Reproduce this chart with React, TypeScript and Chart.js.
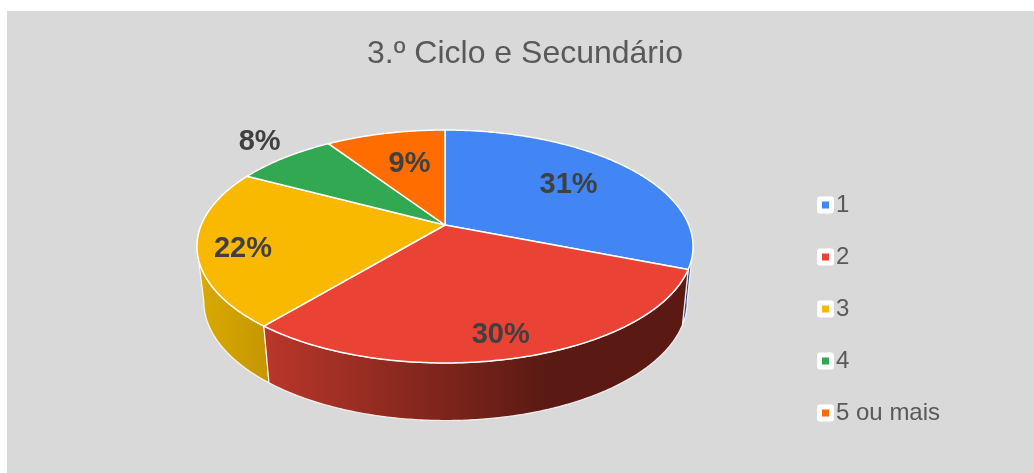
import React, { useEffect, useRef } from "react";
import { Chart, registerables } from "chart.js";

Chart.register(...registerables);

const categories = ["1", "2", "3", "4", "5 ou mais"];
const shares = [31, 30, 21.8, 7.9, 9.3];
const sliceColors = ["#4285f4", "#ea4335", "#f9b900", "#32a852", "#ff6d01"];
const chartTitle = "3.º Ciclo e Secundário";

const FONT = '"Liberation Sans", Arial, sans-serif';
const TILT = -0.1845;
const TOP = { cx: 438, cy: 214, rx: 243.8, ry: 112.5 };
const BASE = { cx: 438.5, cy: 268.5, rx: 237.5, ry: 115 };
const SIDE_START = (100.6 * Math.PI) / 180;
const SIDE_END = (259.4 * Math.PI) / 180;
const labelRadius = [0.66, 0.85, 0.82, 1.2, 0.66];
const labelNudge = [[-1, -1], [-5, 1], [0, 6], [3, -4], [6, 3]];

function project(face: typeof TOP, theta: number, r = 1) {
  const u = Math.sin(theta) * r;
  const v = -Math.cos(theta) * r;
  const d = 1 + TILT * v;
  return { x: face.cx + (face.rx * u) / d, y: face.cy + (face.ry * v) / d };
}

function arcPoints(face: typeof TOP, a: number, b: number) {
  const n = Math.max(2, Math.ceil(Math.abs(b - a) / 0.01));
  const out: { x: number; y: number }[] = [];
  for (let i = 0; i <= n; i++) out.push(project(face, a + ((b - a) * i) / n));
  return out;
}

function swatch(color: string) {
  const c = document.createElement("canvas");
  c.width = 40;
  c.height = 18;
  const g = c.getContext("2d")!;
  g.fillStyle = "#ffffff";
  g.beginPath();
  g.roundRect(17, 0.5, 17, 17, 3);
  g.fill();
  g.fillStyle = color;
  g.fillRect(22, 5.5, 7, 7);
  return c;
}

const pie3d = {
  id: "pie3d",
  afterLayout(chart: any) {
    const lg = chart.legend;
    const w = lg.right - lg.left;
    const h = lg.bottom - lg.top;
    lg.left = 781;
    lg.right = lg.left + w;
    lg.top = 154;
    lg.bottom = lg.top + h;
  },
  beforeDatasetsDraw(chart: any) {
    const ctx: CanvasRenderingContext2D = chart.ctx;
    const arcs = chart.getDatasetMeta(0).data;
    const spans = arcs.map((arc: any) => ({
      a: arc.startAngle + Math.PI / 2,
      b: arc.endAngle + Math.PI / 2,
    }));

    ctx.save();
    ctx.lineJoin = "round";

    const redFill = ctx.createLinearGradient(263, 0, 540, 0);
    redFill.addColorStop(0, "#b8362a");
    redFill.addColorStop(1, "#5a1a13");
    const yellowFill = ctx.createLinearGradient(195, 0, 265, 0);
    yellowFill.addColorStop(0, "#d9a900");
    yellowFill.addColorStop(1, "#c49500");
    const wallFills: (string | CanvasGradient)[] = ["#2b4d85", redFill, yellowFill];

    [0, 2, 1].forEach((i) => {
      const a = Math.max(spans[i].a, SIDE_START);
      const b = Math.min(spans[i].b, SIDE_END);
      if (b <= a) return;
      const pts = [...arcPoints(TOP, a, b), ...arcPoints(BASE, b, a)];
      ctx.beginPath();
      pts.forEach((p, k) => (k ? ctx.lineTo(p.x, p.y) : ctx.moveTo(p.x, p.y)));
      ctx.closePath();
      ctx.fillStyle = wallFills[i];
      ctx.fill();
      ctx.strokeStyle = "rgba(255,255,255,0.85)";
      ctx.lineWidth = 1.2;
      ctx.stroke();
    });

    spans.forEach((s: any, i: number) => {
      const pts = arcPoints(TOP, s.a, s.b);
      ctx.beginPath();
      ctx.moveTo(TOP.cx, TOP.cy);
      pts.forEach((p) => ctx.lineTo(p.x, p.y));
      ctx.closePath();
      ctx.fillStyle = sliceColors[i];
      ctx.fill();
      ctx.strokeStyle = "#ffffff";
      ctx.lineWidth = 1.5;
      ctx.stroke();
    });

    const total = shares.reduce((t, v) => t + v, 0);
    ctx.font = `bold 29px ${FONT}`;
    ctx.fillStyle = "#404040";
    ctx.textAlign = "center";
    ctx.textBaseline = "middle";
    spans.forEach((s: any, i: number) => {
      const p = project(TOP, (s.a + s.b) / 2, labelRadius[i]);
      ctx.fillText(
        `${Math.round((shares[i] / total) * 100)}%`,
        p.x + labelNudge[i][0],
        p.y + labelNudge[i][1]
      );
    });
    ctx.restore();
    return false;
  },
};

export default function App() {
  const ref = useRef<HTMLCanvasElement>(null);
  useEffect(() => {
    const chart = new Chart(ref.current!, {
      type: "pie",
      data: {
        labels: categories,
        datasets: [{ data: shares, backgroundColor: sliceColors }],
      },
      plugins: [pie3d as any],
      options: {
        animation: false,
        responsive: false,
        layout: { padding: { left: 9 } },
        plugins: {
          tooltip: { enabled: false },
          title: {
            display: true,
            text: chartTitle,
            color: "#595959",
            font: { family: FONT, size: 32, weight: "normal" },
            padding: { top: 24, bottom: 20 },
          },
          legend: {
            position: "right",
            align: "start",
            labels: {
              color: "#595959",
              font: { family: FONT, size: 24 },
              usePointStyle: true,
              pointStyleWidth: 8,
              padding: 28,
              generateLabels: () =>
                categories.map((text, i) => ({
                  text,
                  index: i,
                  fontColor: "#595959",
                  fillStyle: sliceColors[i],
                  strokeStyle: sliceColors[i],
                  lineWidth: 0,
                  pointStyle: swatch(sliceColors[i]),
                })),
            },
          },
        },
      },
    } as any);
    return () => chart.destroy();
  }, []);
  return (
    <div style={{ position: "fixed", left: 7, top: 11, width: 1027, height: 462 }}>
      <canvas
        ref={ref}
        width={1027}
        height={462}
        style={{ display: "block", background: "#d9d9d9" }}
      />
    </div>
  );
}
